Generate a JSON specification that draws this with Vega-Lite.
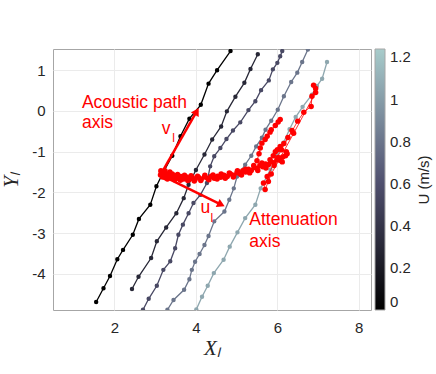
{
  "$schema": "https://vega.github.io/schema/vega-lite/v6.json",
  "width": 318,
  "height": 261,
  "autosize": "none",
  "padding": {"left": 53, "top": 49, "right": 65, "bottom": 64},
  "background": "white",
  "datasets": {
    "gray": [
      {"s":1,"U":0,"i":1,"x":1.55,"y":-4.69},{"s":1,"U":0,"i":2,"x":1.73,"y":-4.35},{"s":1,"U":0,"i":3,"x":1.89,"y":-4.05},{"s":1,"U":0,"i":4,"x":2.07,"y":-3.64},{"s":1,"U":0,"i":5,"x":2.21,"y":-3.41},{"s":1,"U":0,"i":6,"x":2.45,"y":-3.04},{"s":1,"U":0,"i":7,"x":2.60,"y":-2.65},{"s":1,"U":0,"i":8,"x":2.88,"y":-2.30},{"s":1,"U":0,"i":9,"x":3.03,"y":-1.85},{"s":1,"U":0,"i":10,"x":3.20,"y":-1.50},{"s":1,"U":0,"i":11,"x":3.42,"y":-1.10},{"s":1,"U":0,"i":12,"x":3.62,"y":-0.62},{"s":1,"U":0,"i":13,"x":3.84,"y":-0.19},{"s":1,"U":0,"i":14,"x":4.12,"y":0.15},{"s":1,"U":0,"i":15,"x":4.31,"y":0.67},{"s":1,"U":0,"i":16,"x":4.52,"y":1.00},{"s":1,"U":0,"i":17,"x":4.85,"y":1.47},
      {"s":2,"U":0.3,"i":1,"x":2.43,"y":-4.37},{"s":2,"U":0.3,"i":2,"x":2.59,"y":-4.07},{"s":2,"U":0.3,"i":3,"x":2.90,"y":-3.61},{"s":2,"U":0.3,"i":4,"x":3.04,"y":-3.20},{"s":2,"U":0.3,"i":5,"x":3.27,"y":-2.86},{"s":2,"U":0.3,"i":6,"x":3.52,"y":-2.51},{"s":2,"U":0.3,"i":7,"x":3.70,"y":-2.14},{"s":2,"U":0.3,"i":8,"x":3.82,"y":-1.81},{"s":2,"U":0.3,"i":9,"x":4.00,"y":-1.45},{"s":2,"U":0.3,"i":10,"x":4.21,"y":-1.07},{"s":2,"U":0.3,"i":11,"x":4.40,"y":-0.70},{"s":2,"U":0.3,"i":12,"x":4.62,"y":-0.38},{"s":2,"U":0.3,"i":13,"x":4.76,"y":-0.01},{"s":2,"U":0.3,"i":14,"x":4.97,"y":0.35},{"s":2,"U":0.3,"i":15,"x":5.19,"y":0.69},{"s":2,"U":0.3,"i":16,"x":5.34,"y":1.03},{"s":2,"U":0.3,"i":17,"x":5.52,"y":1.39},
      {"s":3,"U":0.55,"i":1,"x":2.70,"y":-4.88},{"s":3,"U":0.55,"i":2,"x":2.84,"y":-4.61},{"s":3,"U":0.55,"i":3,"x":3.04,"y":-4.29},{"s":3,"U":0.55,"i":4,"x":3.20,"y":-3.90},{"s":3,"U":0.55,"i":5,"x":3.37,"y":-3.69},{"s":3,"U":0.55,"i":6,"x":3.49,"y":-3.37},{"s":3,"U":0.55,"i":7,"x":3.57,"y":-3.04},{"s":3,"U":0.55,"i":8,"x":3.68,"y":-2.79},{"s":3,"U":0.55,"i":9,"x":3.82,"y":-2.51},{"s":3,"U":0.55,"i":10,"x":3.94,"y":-2.26},{"s":3,"U":0.55,"i":11,"x":4.11,"y":-2.06},{"s":3,"U":0.55,"i":12,"x":4.27,"y":-1.77},{"s":3,"U":0.55,"i":13,"x":4.35,"y":-1.36},{"s":3,"U":0.55,"i":14,"x":4.45,"y":-1.11},{"s":3,"U":0.55,"i":15,"x":4.60,"y":-0.91},{"s":3,"U":0.55,"i":16,"x":4.75,"y":-0.69},{"s":3,"U":0.55,"i":17,"x":4.91,"y":-0.48},{"s":3,"U":0.55,"i":18,"x":5.09,"y":-0.28},{"s":3,"U":0.55,"i":19,"x":5.29,"y":0.02},{"s":3,"U":0.55,"i":20,"x":5.46,"y":0.24},{"s":3,"U":0.55,"i":21,"x":5.60,"y":0.51},{"s":3,"U":0.55,"i":22,"x":5.79,"y":0.75},{"s":3,"U":0.55,"i":23,"x":5.89,"y":1.02},{"s":3,"U":0.55,"i":24,"x":6.00,"y":1.18},{"s":3,"U":0.55,"i":25,"x":6.07,"y":1.34},{"s":3,"U":0.55,"i":26,"x":6.12,"y":1.47},
      {"s":4,"U":0.8,"i":1,"x":3.30,"y":-4.88},{"s":4,"U":0.8,"i":2,"x":3.45,"y":-4.64},{"s":4,"U":0.8,"i":3,"x":3.71,"y":-4.39},{"s":4,"U":0.8,"i":4,"x":3.84,"y":-4.13},{"s":4,"U":0.8,"i":5,"x":3.90,"y":-3.90},{"s":4,"U":0.8,"i":6,"x":3.98,"y":-3.70},{"s":4,"U":0.8,"i":7,"x":4.09,"y":-3.51},{"s":4,"U":0.8,"i":8,"x":4.21,"y":-3.29},{"s":4,"U":0.8,"i":9,"x":4.31,"y":-3.07},{"s":4,"U":0.8,"i":10,"x":4.45,"y":-2.71},{"s":4,"U":0.8,"i":11,"x":4.70,"y":-2.47},{"s":4,"U":0.8,"i":12,"x":4.82,"y":-2.18},{"s":4,"U":0.8,"i":13,"x":4.93,"y":-1.90},{"s":4,"U":0.8,"i":14,"x":5.01,"y":-1.61},{"s":4,"U":0.8,"i":15,"x":5.21,"y":-1.32},{"s":4,"U":0.8,"i":16,"x":5.36,"y":-1.10},{"s":4,"U":0.8,"i":17,"x":5.48,"y":-0.87},{"s":4,"U":0.8,"i":18,"x":5.62,"y":-0.66},{"s":4,"U":0.8,"i":19,"x":5.71,"y":-0.46},{"s":4,"U":0.8,"i":20,"x":5.85,"y":-0.24},{"s":4,"U":0.8,"i":21,"x":6.01,"y":0.03},{"s":4,"U":0.8,"i":22,"x":6.16,"y":0.36},{"s":4,"U":0.8,"i":23,"x":6.34,"y":0.71},{"s":4,"U":0.8,"i":24,"x":6.49,"y":0.94},{"s":4,"U":0.8,"i":25,"x":6.61,"y":1.20},{"s":4,"U":0.8,"i":26,"x":6.75,"y":1.51},
      {"s":5,"U":1.05,"i":1,"x":4.01,"y":-4.87},{"s":5,"U":1.05,"i":2,"x":4.15,"y":-4.56},{"s":5,"U":1.05,"i":3,"x":4.29,"y":-4.29},{"s":5,"U":1.05,"i":4,"x":4.44,"y":-3.98},{"s":5,"U":1.05,"i":5,"x":4.68,"y":-3.65},{"s":5,"U":1.05,"i":6,"x":4.83,"y":-3.33},{"s":5,"U":1.05,"i":7,"x":5.02,"y":-2.98},{"s":5,"U":1.05,"i":8,"x":5.21,"y":-2.63},{"s":5,"U":1.05,"i":9,"x":5.46,"y":-2.30},{"s":5,"U":1.05,"i":10,"x":5.59,"y":-1.90},{"s":5,"U":1.05,"i":11,"x":5.83,"y":-1.44},{"s":5,"U":1.05,"i":12,"x":6.00,"y":-1.10},{"s":5,"U":1.05,"i":13,"x":6.15,"y":-0.78},{"s":5,"U":1.05,"i":14,"x":6.30,"y":-0.45},{"s":5,"U":1.05,"i":15,"x":6.45,"y":-0.15},{"s":5,"U":1.05,"i":16,"x":6.62,"y":0.10},{"s":5,"U":1.05,"i":17,"x":6.85,"y":0.40},{"s":5,"U":1.05,"i":18,"x":6.97,"y":0.61},{"s":5,"U":1.05,"i":19,"x":7.10,"y":0.79},{"s":5,"U":1.05,"i":20,"x":7.22,"y":1.20}
    ],
    "red": [
      {"g":"band","i":1,"x":3.13,"y":-1.57},{"g":"band","i":2,"x":3.15,"y":-1.50},{"g":"band","i":3,"x":3.18,"y":-1.62},{"g":"band","i":4,"x":3.21,"y":-1.54},{"g":"band","i":5,"x":3.25,"y":-1.64},{"g":"band","i":6,"x":3.29,"y":-1.55},{"g":"band","i":7,"x":3.33,"y":-1.62},{"g":"band","i":8,"x":3.38,"y":-1.57},{"g":"band","i":9,"x":3.44,"y":-1.65},{"g":"band","i":10,"x":3.50,"y":-1.59},{"g":"band","i":11,"x":3.57,"y":-1.66},{"g":"band","i":12,"x":3.63,"y":-1.61},{"g":"band","i":13,"x":3.70,"y":-1.67},{"g":"band","i":14,"x":3.77,"y":-1.62},{"g":"band","i":15,"x":3.84,"y":-1.68},{"g":"band","i":16,"x":3.91,"y":-1.63},{"g":"band","i":17,"x":3.98,"y":-1.68},{"g":"band","i":18,"x":4.06,"y":-1.63},{"g":"band","i":19,"x":4.13,"y":-1.67},{"g":"band","i":20,"x":4.21,"y":-1.62},{"g":"band","i":21,"x":4.29,"y":-1.66},{"g":"band","i":22,"x":4.37,"y":-1.61},{"g":"band","i":23,"x":4.45,"y":-1.65},{"g":"band","i":24,"x":4.53,"y":-1.60},{"g":"band","i":25,"x":4.61,"y":-1.63},{"g":"band","i":26,"x":4.69,"y":-1.58},{"g":"band","i":27,"x":4.77,"y":-1.61},{"g":"band","i":28,"x":4.85,"y":-1.55},{"g":"band","i":29,"x":4.93,"y":-1.58},{"g":"band","i":30,"x":5.01,"y":-1.51},{"g":"band","i":31,"x":5.08,"y":-1.54},{"g":"band","i":32,"x":5.15,"y":-1.47},{"g":"band","i":33,"x":5.22,"y":-1.50},{"g":"band","i":34,"x":5.29,"y":-1.43},{"g":"band","i":35,"x":5.36,"y":-1.46},{"g":"band","i":36,"x":5.43,"y":-1.39},{"g":"band","i":37,"x":5.50,"y":-1.41},{"g":"band","i":38,"x":5.57,"y":-1.34},{"g":"band","i":39,"x":5.64,"y":-1.37},{"g":"band","i":40,"x":5.71,"y":-1.30},{"g":"band","i":41,"x":5.78,"y":-1.32},{"g":"band","i":42,"x":5.85,"y":-1.25},{"g":"band","i":43,"x":5.92,"y":-1.27},{"g":"band","i":44,"x":5.99,"y":-1.19},{"g":"band","i":45,"x":6.06,"y":-1.21},{"g":"band","i":46,"x":6.13,"y":-1.13},{"g":"band","i":47,"x":6.20,"y":-1.10},{"g":"band","i":48,"x":6.24,"y":-1.05},
      {"g":"band2","i":1,"x":3.14,"y":-1.47},{"g":"band2","i":2,"x":3.19,"y":-1.52},{"g":"band2","i":3,"x":3.24,"y":-1.47},{"g":"band2","i":4,"x":3.30,"y":-1.67},{"g":"band2","i":5,"x":3.36,"y":-1.50},{"g":"band2","i":6,"x":3.42,"y":-1.55},{"g":"band2","i":7,"x":3.48,"y":-1.69},{"g":"band2","i":8,"x":3.55,"y":-1.56},{"g":"band2","i":9,"x":3.62,"y":-1.70},{"g":"band2","i":10,"x":3.72,"y":-1.58},{"g":"band2","i":11,"x":3.80,"y":-1.71},{"g":"band2","i":12,"x":3.88,"y":-1.59},{"g":"band2","i":13,"x":3.96,"y":-1.72},{"g":"band2","i":14,"x":4.04,"y":-1.60},{"g":"band2","i":15,"x":4.12,"y":-1.71},{"g":"band2","i":16,"x":4.22,"y":-1.58},{"g":"band2","i":17,"x":4.32,"y":-1.69},{"g":"band2","i":18,"x":4.42,"y":-1.57},{"g":"band2","i":19,"x":4.52,"y":-1.67},{"g":"band2","i":20,"x":4.62,"y":-1.55},{"g":"band2","i":21,"x":4.72,"y":-1.65},{"g":"band2","i":22,"x":4.82,"y":-1.52},{"g":"band2","i":23,"x":4.92,"y":-1.62},{"g":"band2","i":24,"x":5.02,"y":-1.47},{"g":"band2","i":25,"x":5.12,"y":-1.57},{"g":"band2","i":26,"x":5.22,"y":-1.43},{"g":"band2","i":27,"x":5.32,"y":-1.52},{"g":"band2","i":28,"x":5.42,"y":-1.34},{"g":"band2","i":29,"x":5.52,"y":-1.46},{"g":"band2","i":30,"x":5.62,"y":-1.28},{"g":"band2","i":31,"x":5.72,"y":-1.40},{"g":"band2","i":32,"x":5.82,"y":-1.20},{"g":"band2","i":33,"x":5.92,"y":-1.34},{"g":"band2","i":34,"x":6.02,"y":-1.14},{"g":"band2","i":35,"x":6.12,"y":-1.25},{"g":"band2","i":36,"x":6.22,"y":-1.00},
      {"g":"a","i":1,"x":5.50,"y":-1.22},{"g":"a","i":2,"x":5.55,"y":-1.05},{"g":"a","i":3,"x":5.58,"y":-0.91},{"g":"a","i":4,"x":5.62,"y":-0.79},{"g":"a","i":5,"x":5.70,"y":-0.70},{"g":"a","i":6,"x":5.75,"y":-0.62},{"g":"a","i":7,"x":5.82,"y":-0.52},{"g":"a","i":8,"x":5.85,"y":-0.46},{"g":"a","i":9,"x":5.95,"y":-0.36},{"g":"a","i":10,"x":6.02,"y":-0.27},{"g":"a","i":11,"x":6.07,"y":-0.21},
      {"g":"b","i":1,"x":5.90,"y":-1.10},{"g":"b","i":2,"x":5.95,"y":-1.00},{"g":"b","i":3,"x":6.00,"y":-0.95},{"g":"b","i":4,"x":6.07,"y":-0.87},{"g":"b","i":5,"x":6.16,"y":-0.80},{"g":"b","i":6,"x":6.26,"y":-0.65},{"g":"b","i":7,"x":6.36,"y":-0.48},
      {"g":"c","i":1,"x":5.78,"y":-1.73},{"g":"c","i":2,"x":5.75,"y":-1.61},{"g":"c","i":3,"x":6.10,"y":-0.95},{"g":"c","i":4,"x":6.50,"y":-0.25},{"g":"c","i":5,"x":6.65,"y":-0.03},{"g":"c","i":6,"x":6.83,"y":0.11},{"g":"c","i":7,"x":6.85,"y":0.36},{"g":"c","i":8,"x":6.94,"y":0.55},{"g":"c","i":9,"x":6.89,"y":0.63},
      {"g":"d","i":1,"x":5.66,"y":-1.77},{"g":"d","i":2,"x":5.70,"y":-1.93},{"g":"d","i":3,"x":5.85,"y":-1.55},{"g":"d","i":4,"x":6.40,"y":-0.55},{"g":"d","i":5,"x":6.94,"y":0.45}
    ],
    "arrows": [
      {"name":"v","x":3.13,"y":-1.57,"x2":4.02,"y2":-0.01},
      {"name":"u","x":3.13,"y":-1.57,"x2":4.62,"y2":-2.30}
    ],
    "labels": [
      {"t":"Acoustic path","x":1.20,"y":0.205},
      {"t":"axis","x":1.20,"y":-0.295},
      {"t":"Attenuation","x":5.31,"y":-2.67},
      {"t":"axis","x":5.31,"y":-3.21}
    ],
    "symbols": [
      {"t":"v","x":3.27,"y":-0.435},
      {"t":"u","x":4.23,"y":-2.377}
    ],
    "subs": [
      {"t":"l","x":3.45,"y":-0.656},
      {"t":"l","x":4.39,"y":-2.62}
    ]
  },
  "layer": [
    {
      "data": {"name": "gray"},
      "mark": {"type": "line", "strokeWidth": 1.3, "clip": true},
      "encoding": {
        "x": {"field": "x", "type": "quantitative", "scale": {"domain": [0.49, 8.3], "nice": false, "zero": false},
              "axis": {"values": [2, 4, 6, 8], "title": "Xₗ", "labelExpr": "'' + datum.value"}},
        "y": {"field": "y", "type": "quantitative", "scale": {"domain": [-4.885, 1.52], "nice": false, "zero": false},
              "axis": {"values": [-4, -3, -2, -1, 0, 1], "title": "Yₗ", "labelExpr": "'' + datum.value"}},
        "stroke": {"field": "U", "type": "quantitative",
                  "scale": {"domain": [0, 0.62, 1.24], "range": ["#000000", "#525271", "#a8cccb"], "interpolate": "rgb"},
                  "legend": {"type": "gradient", "title": "U (m/s)", "tickCount": 7, "orient": "none",
                             "legendX": 322, "legendY": 0, "direction": "vertical",
                             "gradientLength": 261, "gradientThickness": 10,
                             "gradientStrokeColor": "#a6a6a6", "gradientStrokeWidth": 1,
                             "labelFontSize": 15, "labelColor": "#262626", "labelOverlap": false, "labelOffset": 5,
                             "labelExpr": "'' + datum.value",
                             "titleOrient": "right", "titleFontSize": 15, "titleFontWeight": "normal",
                             "titleColor": "#262626", "titleAnchor": "middle", "titlePadding": 6,
                             "encode": {"title": {"update": {"angle": {"value": 270}, "dy": {"value": 15}}}}}},
        "detail": {"field": "s"},
        "order": {"field": "i", "type": "quantitative"}
      }
    },
    {
      "data": {"name": "gray"},
      "mark": {"type": "circle", "filled": false, "size": 5, "strokeWidth": 2.2, "opacity": 1, "clip": true},
      "encoding": {
        "x": {"field": "x", "type": "quantitative"},
        "y": {"field": "y", "type": "quantitative"},
        "stroke": {"field": "U", "type": "quantitative"}
      }
    },
    {
      "data": {"name": "red"},
      "mark": {"type": "line", "strokeWidth": 0.8, "color": "#ff0000", "clip": true},
      "encoding": {
        "x": {"field": "x", "type": "quantitative"},
        "y": {"field": "y", "type": "quantitative"},
        "detail": {"field": "g"},
        "order": {"field": "i", "type": "quantitative"}
      }
    },
    {
      "data": {"name": "red"},
      "mark": {"type": "circle", "size": 30, "color": "#ff0000", "opacity": 1, "clip": true},
      "encoding": {
        "x": {"field": "x", "type": "quantitative"},
        "y": {"field": "y", "type": "quantitative"}
      }
    },
    {
      "data": {"name": "arrows"},
      "mark": {"type": "rule", "strokeWidth": 2.5, "color": "#ff0000"},
      "encoding": {
        "x": {"field": "x", "type": "quantitative"},
        "y": {"field": "y", "type": "quantitative"},
        "x2": {"field": "x2"},
        "y2": {"field": "y2"}
      }
    },
    {
      "data": {"name": "arrows"},
      "transform": [{"filter": "datum.name == 'v'"}],
      "mark": {"type": "point", "shape": "triangle-up", "filled": true, "size": 80, "angle": 30, "color": "#ff0000", "opacity": 1},
      "encoding": {
        "x": {"field": "x2", "type": "quantitative"},
        "y": {"field": "y2", "type": "quantitative"}
      }
    },
    {
      "data": {"name": "arrows"},
      "transform": [{"filter": "datum.name == 'u'"}],
      "mark": {"type": "point", "shape": "triangle-up", "filled": true, "size": 80, "angle": 116, "color": "#ff0000", "opacity": 1},
      "encoding": {
        "x": {"field": "x2", "type": "quantitative"},
        "y": {"field": "y2", "type": "quantitative"}
      }
    },
    {
      "data": {"name": "labels"},
      "mark": {"type": "text", "align": "left", "baseline": "middle", "fontSize": 17.5, "color": "#ff0000", "font": "Liberation Sans"},
      "encoding": {
        "x": {"field": "x", "type": "quantitative"},
        "y": {"field": "y", "type": "quantitative"},
        "text": {"field": "t"}
      }
    },
    {
      "data": {"name": "symbols"},
      "mark": {"type": "text", "align": "center", "baseline": "middle", "fontSize": 17.5, "color": "#ff0000", "font": "Liberation Sans"},
      "encoding": {
        "x": {"field": "x", "type": "quantitative"},
        "y": {"field": "y", "type": "quantitative"},
        "text": {"field": "t"}
      }
    },
    {
      "data": {"name": "subs"},
      "mark": {"type": "text", "align": "center", "baseline": "middle", "fontSize": 12, "color": "#ff0000", "font": "Liberation Sans"},
      "encoding": {
        "x": {"field": "x", "type": "quantitative"},
        "y": {"field": "y", "type": "quantitative"},
        "text": {"field": "t"}
      }
    }
  ],
  "config": {
    "font": "Liberation Sans",
    "view": {"stroke": "#a6a6a6", "strokeWidth": 1},
    "axis": {
      "grid": true, "gridColor": "#ebebeb", "gridWidth": 1,
      "domain": false, "ticks": false,
      "labelFontSize": 15, "labelColor": "#262626", "labelFont": "Liberation Sans",
      "titleFont": "Liberation Serif", "titleFontStyle": "italic", "titleFontWeight": "normal",
      "titleFontSize": 21, "titleColor": "#262626"
    },
    "axisX": {"labelPadding": 10, "titlePadding": 2},
    "axisY": {"labelPadding": 8, "titlePadding": 10}
  }
}
